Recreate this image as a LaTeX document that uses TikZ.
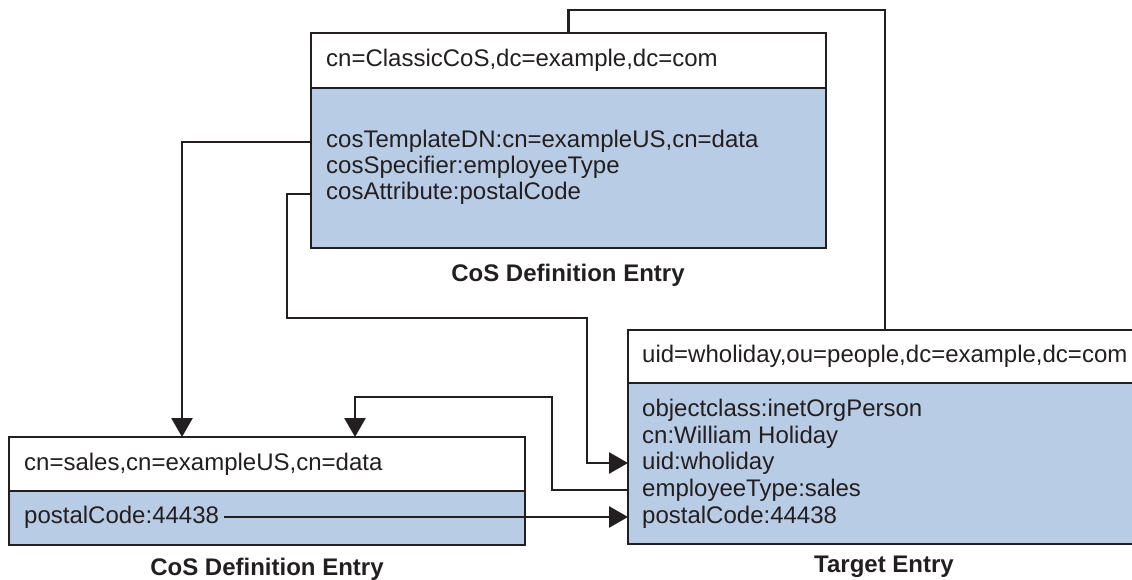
\documentclass[tikz,border=0pt]{standalone}
\usepackage{fontspec}
\setmainfont{Liberation Sans}
\usetikzlibrary{arrows.meta,positioning}
\definecolor{entryblue}{HTML}{B9CCE6}
\definecolor{inkline}{HTML}{231F20}

\begin{document}
\begin{tikzpicture}[x=1pt, y=-1pt,
  headbox/.style={draw=inkline, line width=2.6pt, fill=white, minimum width=515pt, anchor=north west, inner sep=0pt, outer sep=0pt},
  bodybox/.style={draw=inkline, line width=2.6pt, fill=entryblue, minimum width=515pt, inner sep=0pt, outer sep=0pt},
  attr/.style={anchor=west, inner sep=0pt, text height=17pt, text depth=5pt, font=\fontsize{24}{28}\selectfont, text=inkline},
  caption/.style={font=\fontsize{24}{28}\selectfont\bfseries, text=inkline},
  link/.style={draw=inkline, line width=2.7pt},
  linkarrow/.style={link, -{Triangle[length=19pt,width=21pt]}}]
  \useasboundingbox (0,0) rectangle (1132,580);
  \clip (0,0) rectangle (1132,580);
  % Classic CoS definition entry
  \node[headbox, minimum height=55pt] (classicHead) at (311,33) {};
  \node[bodybox, minimum height=160pt, below=0pt of classicHead] (classicBody) {};
  \node[attr] (classicDN) at (326,61) {cn=ClassicCoS,dc=example,dc=com};
  \node[attr] (tmplDN) at (326,142) {cosTemplateDN:cn=exampleUS,cn=data};
  \node[attr] (cosSpec) at (326,168) {cosSpecifier:employeeType};
  \node[attr] (cosAttr) at (326,194) {cosAttribute:postalCode};
  \node[caption] (classicCap) at (568,275) {CoS Definition Entry};
  % Template entry
  \node[headbox, minimum width=516pt, minimum height=54pt] (salesHead) at (9,437) {};
  \node[bodybox, minimum width=516pt, minimum height=54pt, below=0pt of salesHead] (salesBody) {};
  \node[attr] (salesDN) at (24,464) {cn=sales,cn=exampleUS,cn=data};
  \node[attr] (salesPostal) at (24,517) {postalCode:44438};
  \node[caption] (salesCap) at (267,569) {CoS Definition Entry};
  % Target entry
  \node[headbox, minimum width=514pt, minimum height=53pt] (targetHead) at (628,330) {};
  \node[bodybox, minimum width=514pt, minimum height=161pt, below=0pt of targetHead] (targetBody) {};
  \node[attr] (targetDN) at (642,356) {uid=wholiday,ou=people,dc=example,dc=com};
  \node[attr] (objClass) at (642,410) {objectclass:inetOrgPerson};
  \node[attr] (cnLine) at (642,437) {cn:William Holiday};
  \node[attr] (uidLine) at (642,463) {uid:wholiday};
  \node[attr] (empLine) at (642,490) {employeeType:sales};
  \node[attr] (targetPostal) at (642,517) {postalCode:44438};
  \node[caption] (targetCap) at (884,567) {Target Entry};
  % Bends
  \coordinate (loopTop) at (885,10);
  \coordinate (attrBend) at (287,318);
  \coordinate (attrDrop) at (587,318);
  \coordinate (empBend) at (552,397);
  % Links
  \draw[link] (classicHead.north) |- (loopTop) -- (loopTop |- targetHead.north);
  \draw[linkarrow] (classicBody.west |- tmplDN) -| ([xshift=173pt]salesHead.north west);
  \draw[linkarrow] (classicBody.west |- cosAttr) -| (attrBend) -- (attrDrop) |- (targetBody.west |- uidLine);
  \draw[linkarrow] (targetBody.west |- empLine) -| (empBend) -| ([xshift=346pt]salesHead.north west);
  \draw[linkarrow, shorten <=5pt] (salesPostal.east) -- (salesPostal.east -| targetBody.west);
\end{tikzpicture}
\end{document}
